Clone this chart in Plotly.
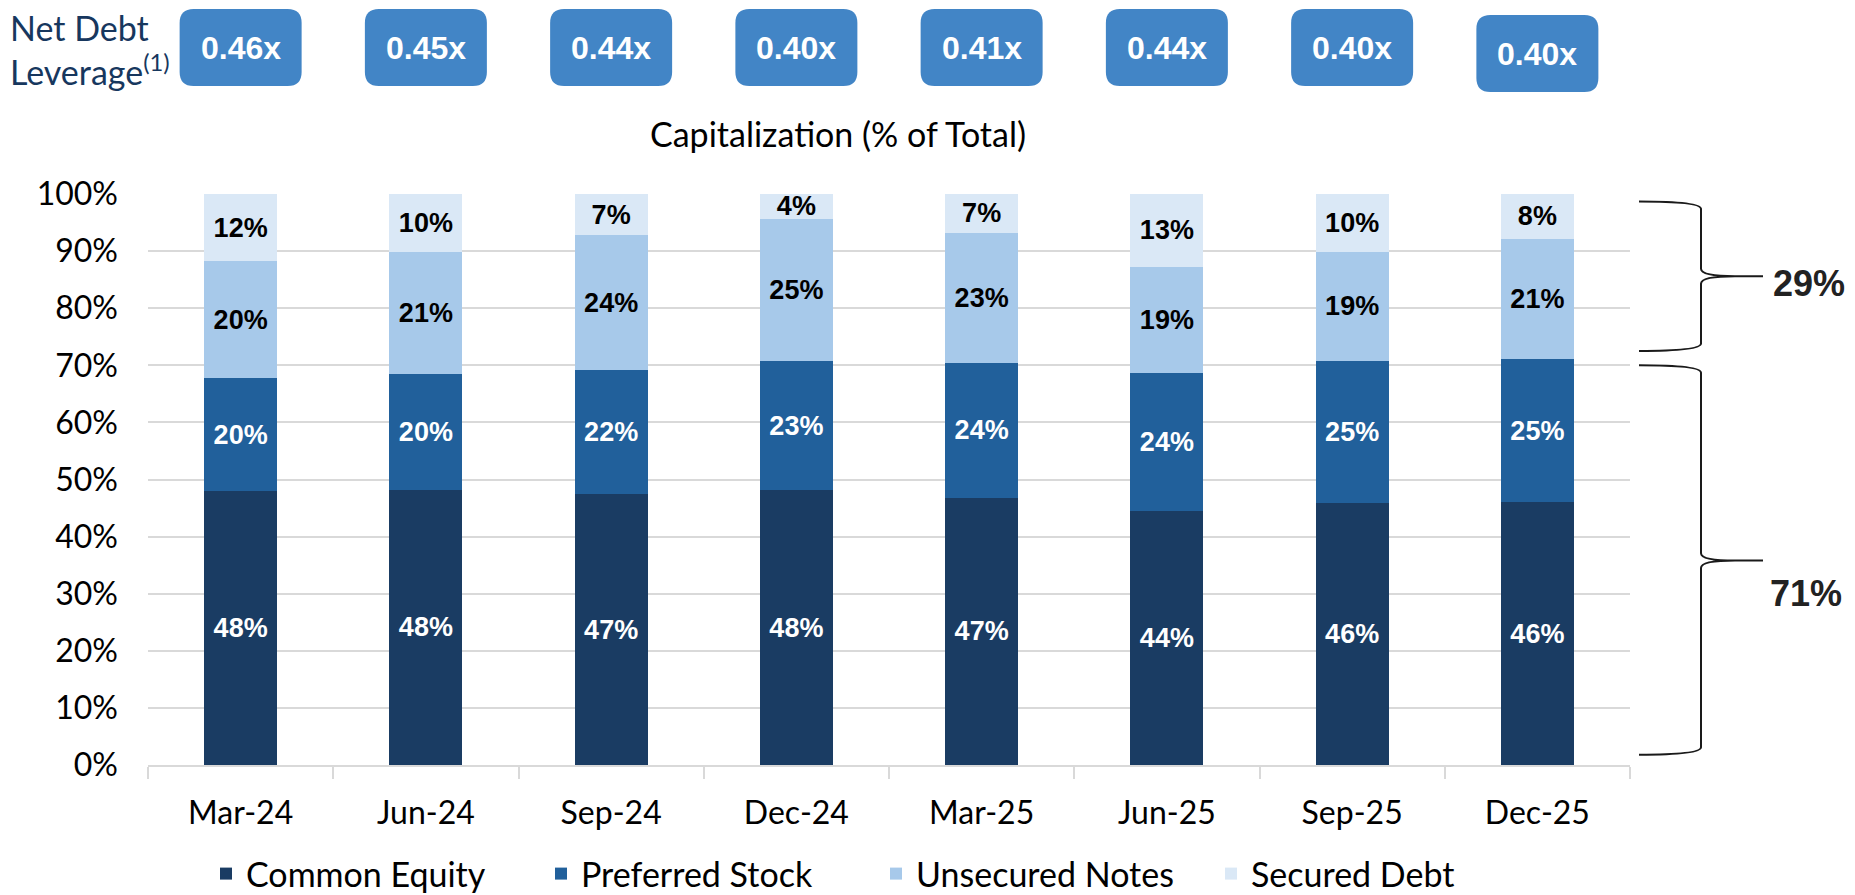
import plotly.graph_objects as go

# ---------------- data ----------------
categories = ["Mar-24", "Jun-24", "Sep-24", "Dec-24", "Mar-25", "Jun-25", "Sep-25", "Dec-25"]
common_equity = [47.9, 48.2, 47.4, 48.1, 46.8, 44.4, 45.9, 46.0]
preferred_stock = [19.9, 20.3, 21.7, 22.7, 23.6, 24.3, 24.8, 25.1]
unsecured_notes = [20.4, 21.4, 23.7, 24.9, 22.8, 18.6, 19.2, 21.1]
secured_debt = [11.8, 10.1, 7.2, 4.3, 6.8, 12.7, 10.1, 7.8]
net_debt_leverage = [0.46, 0.45, 0.44, 0.40, 0.41, 0.44, 0.40, 0.40]
debt_share_label = "29%"
equity_share_label = "71%"

series = [
    ("Common Equity", common_equity, "#1A3C63", "white"),
    ("Preferred Stock", preferred_stock, "#21609B", "white"),
    ("Unsecured Notes", unsecured_notes, "#A7C9EA", "black"),
    ("Secured Debt", secured_debt, "#DAE8F6", "black"),
]

# ---------------- geometry ----------------
# page pixels (the page body has an 8px margin around the figure)
BODY = 8
W, H = 1855 - 2 * BODY, 895 - BODY
PLOT_L, PLOT_T, PW, PH = 148, 194, 1482, 571   # page px
ML = PLOT_L - BODY
MT = PLOT_T - BODY
MR = W - ML - PW
MB = H - MT - PH

def px_x(px):
    return (px - PLOT_L) / PW

def px_y(py):
    return (PLOT_T + PH - py) / PH

fig = go.Figure()
for name, vals, color, tcolor in series:
    fig.add_trace(go.Bar(
        x=categories, y=vals, name=name,
        marker=dict(color=color, line=dict(width=0)),
        texttemplate="%{y:.0f}%", textposition="inside",
        insidetextanchor="middle", textangle=0,
        textfont=dict(family="Liberation Sans, Arial", size=27, color=tcolor, weight="bold"),
        hoverinfo="skip",
    ))

shapes = []
annotations = []
n = len(categories)

# leverage badges
bw, bh, rad = 122, 77, 14
for i, v in enumerate(net_debt_leverage):
    cx = (i + 0.5) / n
    top_px = 9 if i < n - 1 else 15
    x0 = cx - bw / 2 / PW
    x1 = cx + bw / 2 / PW
    y1 = px_y(top_px)
    y0 = px_y(top_px + bh)
    rx = rad / PW
    ry = rad / PH
    path = (f"M{x0+rx},{y1} L{x1-rx},{y1} Q{x1},{y1} {x1},{y1-ry} "
            f"L{x1},{y0+ry} Q{x1},{y0} {x1-rx},{y0} L{x0+rx},{y0} "
            f"Q{x0},{y0} {x0},{y0+ry} L{x0},{y1-ry} Q{x0},{y1} {x0+rx},{y1} Z")
    shapes.append(dict(type="path", path=path, xref="paper", yref="paper",
                       fillcolor="#4285C6", line=dict(width=0), layer="above"))
    annotations.append(dict(x=cx, y=(y0 + y1) / 2, xref="paper", yref="paper",
                            text=f"{v:.2f}x", showarrow=False,
                            font=dict(family="Liberation Sans Narrow, Arial Narrow, Liberation Sans",
                                      size=32, color="white", weight="bold"),
                            xanchor="center", yanchor="middle"))

annotations.append(dict(x=px_x(8), y=px_y(49), xref="paper", yref="paper",
                        text="Net Debt<br>Leverage<sup>(1)</sup>", showarrow=False,
                        align="left", xanchor="left", yanchor="middle",
                        font=dict(family="Lato, Open Sans", size=34, color="#17375E")))

annotations.append(dict(x=px_x(838), y=px_y(134), xref="paper", yref="paper",
                        text="Capitalization (% of Total)", showarrow=False,
                        xanchor="center", yanchor="middle",
                        font=dict(family="Lato, Open Sans", size=34, color="black")))

# braces
xa, xb, xc = px_x(1639), px_x(1701), px_x(1763)
xm = px_x(1735)

def brace(yt, yb, ym):
    yt, yb, ym = yt / 100, yb / 100, ym / 100
    r = 0.013
    return (f"M{xa},{yt} Q{xb},{yt} {xb},{yt-r} L{xb},{ym+r} Q{xb},{ym} {xm},{ym} "
            f"L{xc},{ym} L{xm},{ym} Q{xb},{ym} {xb},{ym-r} L{xb},{yb+r} Q{xb},{yb} {xa},{yb}")

for (yt, yb, ym, lab, lx, ly) in [(98.7, 72.5, 85.6, debt_share_label, 1809, 283),
                                  (70.0, 1.8, 35.8, equity_share_label, 1806, 593)]:
    shapes.append(dict(type="path", path=brace(yt, yb, ym), xref="paper", yref="paper",
                       line=dict(color="#1A1A1A", width=2)))
    annotations.append(dict(x=px_x(lx), y=px_y(ly), xref="paper", yref="paper",
                            text=lab, showarrow=False, xanchor="center", yanchor="middle",
                            borderpad=0,
                            font=dict(family="Liberation Sans, Arial", size=36,
                                      color="#222222", weight="bold")))

fig.update_layout(
    width=W, height=H,
    margin=dict(l=ML, r=MR, t=MT, b=MB, autoexpand=False),
    barmode="stack", bargap=0.605,
    plot_bgcolor="white", paper_bgcolor="white",
    shapes=shapes, annotations=annotations,
    uniformtext=dict(minsize=27, mode="show"),
    showlegend=True,
    legend=dict(orientation="h", x=px_x(206), xanchor="left",
                y=px_y(874), yanchor="middle",
                font=dict(family="Lato, Open Sans", size=34, color="black"),
                traceorder="normal", itemclick=False, entrywidth=290),
    xaxis=dict(type="category", range=[-0.5, n - 0.5], showline=True,
               linecolor="#D9D9D9", linewidth=2, ticks="outside", tickson="boundaries",
               ticklen=12, tickcolor="#D9D9D9", tickwidth=2,
               tickfont=dict(family="Lato, Open Sans", size=32, color="black"),
               ticklabelstandoff=19, fixedrange=True),
    yaxis=dict(range=[0, 100], dtick=10, ticksuffix="%", showgrid=True,
               gridcolor="#D9D9D9", gridwidth=2, zeroline=False, showline=False,
               tickfont=dict(family="Lato, Open Sans", size=32, color="black"),
               ticklabelstandoff=29, fixedrange=True),
)

fig.write_html("out.html",
               post_script="document.body.style.overflow='hidden';")
